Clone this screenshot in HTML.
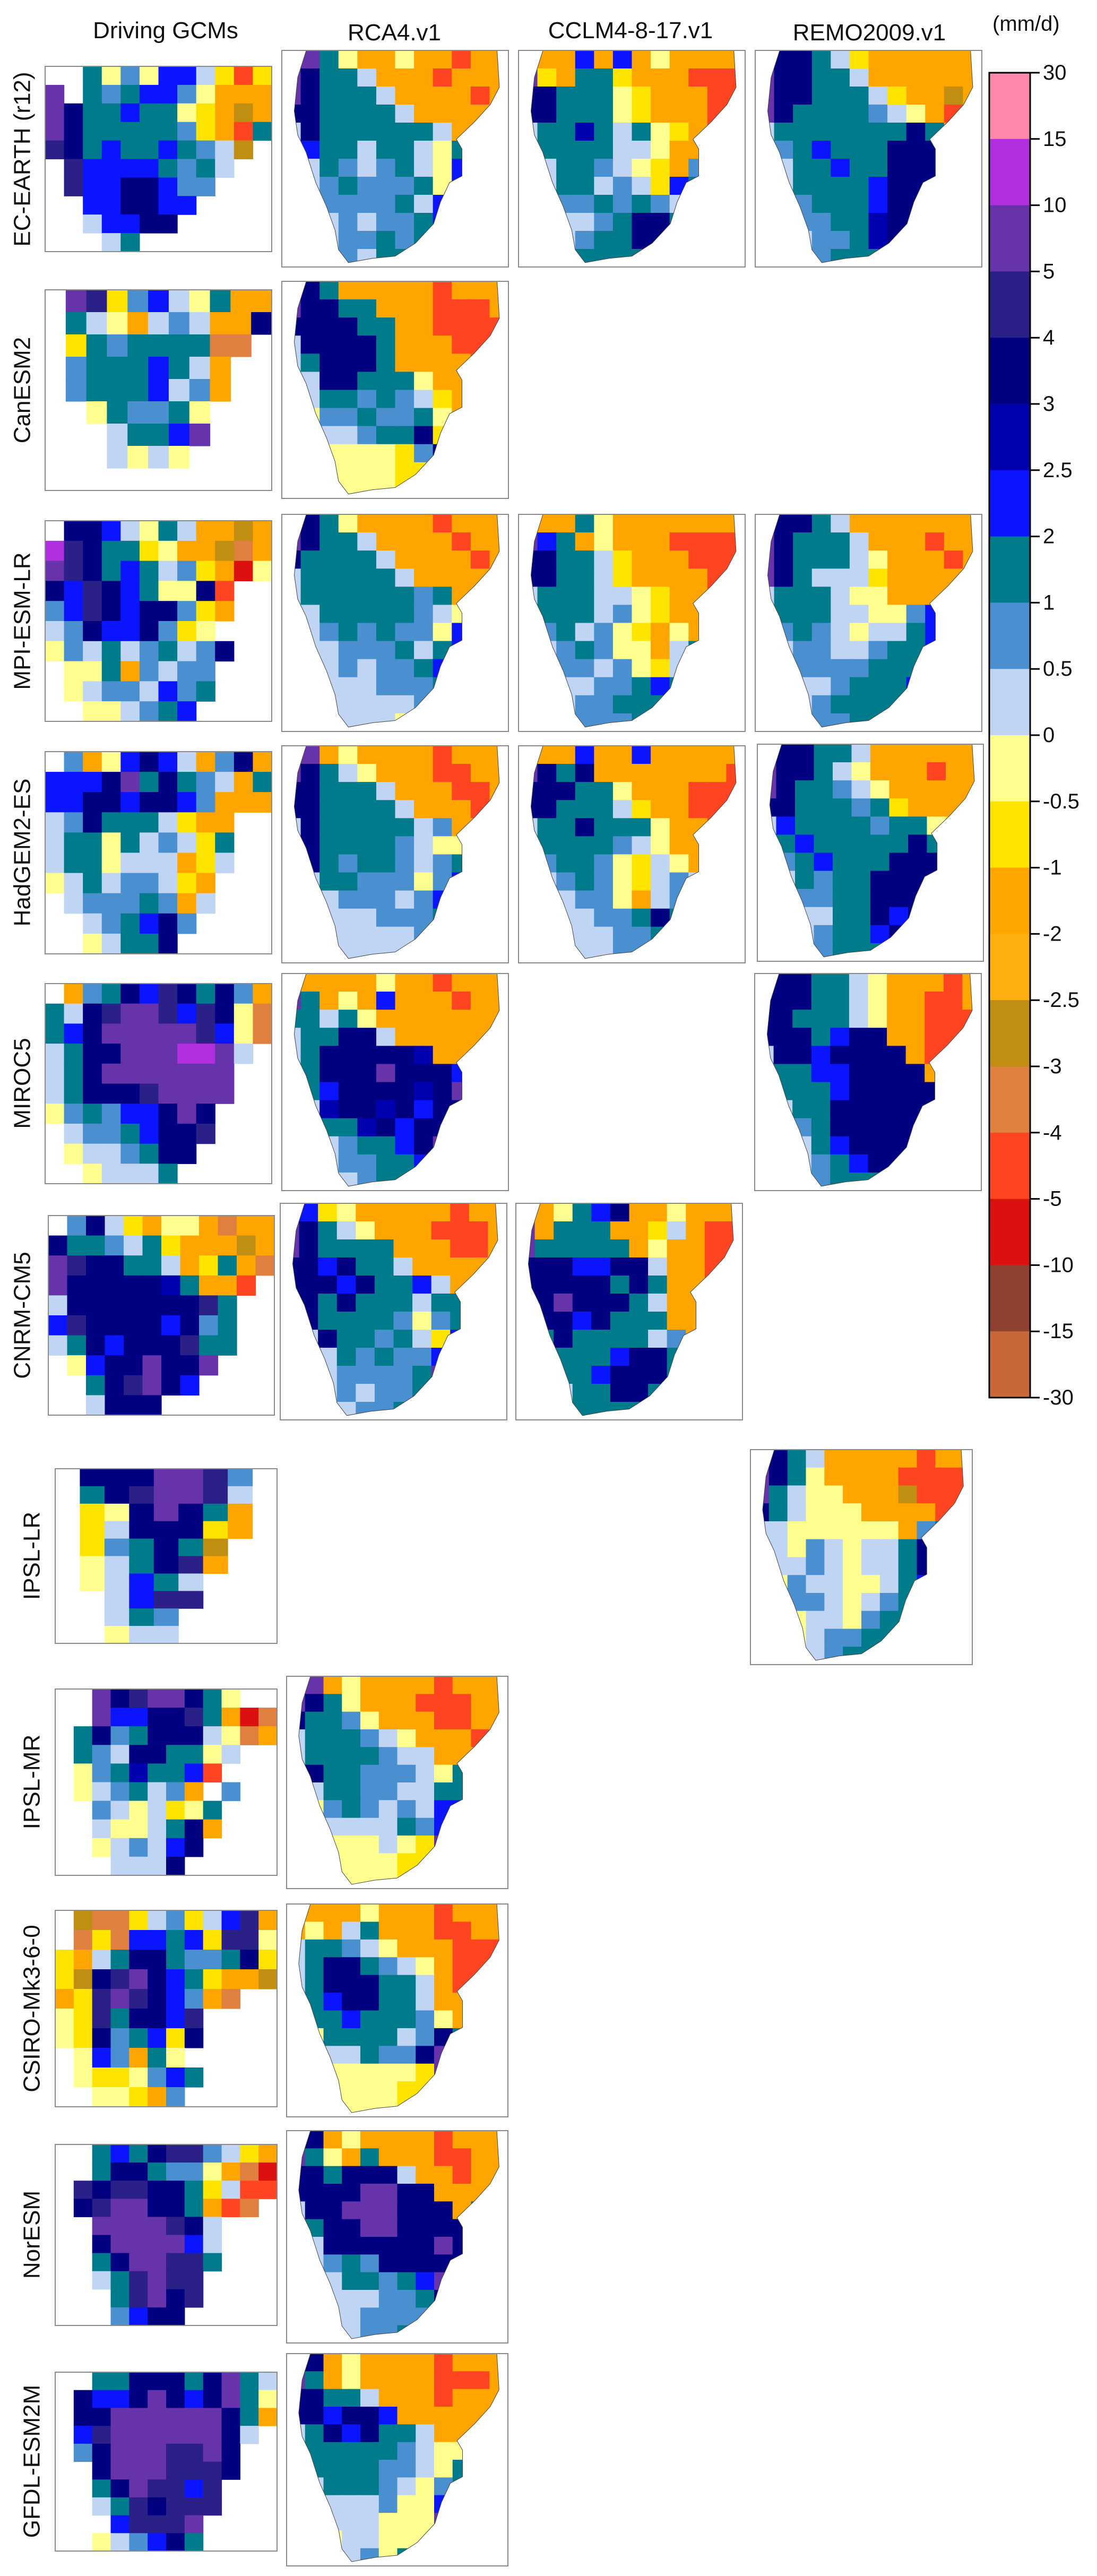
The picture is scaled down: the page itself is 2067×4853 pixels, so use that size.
<!DOCTYPE html>
<html><head><meta charset="utf-8">
<style>
html,body{margin:0;padding:0;background:#fff;}
svg{display:block;}
text{font-family:"Liberation Sans",sans-serif;fill:#111;}
</style></head>
<body>
<svg id="fig" width="2067" height="4853" viewBox="0 0 2067 4853" xmlns="http://www.w3.org/2000/svg">
<defs id="defs"></defs>
<g id="panels"></g>
<g id="titles">
<text x="312" y="72" font-size="44" text-anchor="middle">Driving GCMs</text>
<text x="743" y="76" font-size="44" text-anchor="middle">RCA4.v1</text>
<text x="1188" y="72" font-size="44" text-anchor="middle">CCLM4-8-17.v1</text>
<text x="1638" y="76" font-size="44" text-anchor="middle">REMO2009.v1</text>
<text x="1870" y="58" font-size="40">(mm/d)</text>
</g>
<g id="rowlabels"></g>
<g id="cbar"></g>
</svg>
<script>
const colorCodes = ["P","M","V","N","D","d","B","T","L","l","y","Y","O","o","K","R","r","X","W","Z"];
const colorHex = ["#ff88aa","#b030e0","#6633aa","#2a2088","#000080","#0000b0","#0a14ff","#007b8c","#4a90d0","#c0d4f4","#ffff90","#ffe400","#ffa500","#ffb010","#c08e10","#e08040","#ff4422","#dd1010","#904030","#c86838"];
const tickLabels = ["30","15","10","5","4","3","2.5","2","1","0.5","0","-0.5","-1","-2","-2.5","-3","-4","-5","-10","-15","-30"];
const rowNames = ["EC-EARTH (r12)","CanESM2","MPI-ESM-LR","HadGEM2-ES","MIROC5","CNRM-CM5","IPSL-LR","IPSL-MR","CSIRO-Mk3-6-0","NorESM","GFDL-ESM2M"];

const gEC = ["..TyLyBBlYrY","V.TLTBBLyOOO","VDTTBTTyYOKO","VDTTTTTLYOrT","NDTBTTBTLlK.",".NBBBBTLTl..",".NBBDDBLL...","..BBDDBB....","..lBBDD.....","...lT......."];
const gCan = [".VNYLBlyTOO",".TlyOlLlOOD",".YTLTTTTRR.",".LTTTBTlO..",".LTTTBlLO..","..yTLLTy...","...lTTBV...","...lyly....","..........."];
const gMPI = [".DDBlyTlOOKO","MNDTTYyOOKRO","VNDTBTlLYOXy","DBNDBTyyDr..","LBNDBDDLYO..","lLDBBDLYy...","yLlTlLTlLD..",".yyTOLlLL...",".ylLLlBLT...","..yylLTB...."];
const gHad = [".LOyBDBlOLDO","BBBDVTDTLlOT","BBDDBDDBLOOO","lLDTTTlYOO..","lTTyTlLlYT..","lTTylllOYl..","ylTlLLlYO...",".lLLLTLOl...","..lLTBDL....","..ylTTD....."];
const gMIROC = [".OLTDBNDTDLO","TlDNVVNBNDyR","TBDVVVVVNByR","lTDDVVVMMVl.","lTDVVVVVVV..","lTDDDNVVVV..","yLTLBBDVD...",".lLLTBDDN...",".yllLTDD....","..ylllT....."];
const gCNRM = [".LDlYOyyOROO","DTTLlTYOOOKO","VNDDTTlOYTOR","VDDDDDdTOOr.","lDDDDDDDNT..","BNDDDDBDLT..","lTDBDDDNTT..",".yBDDVDDV...","..TDNVDB....","..lDDD......"];
const gIPSLLR = [".DDDVVNL.",".TDNVVNl.",".YyDVDTO.",".YlDDDYO.",".YLTDTK..",".ylTDNO..",".ylBTl...","..lBNN...","..lTL....","..yll...."];
const gIPSLMR = ["..VDNVVDTy..","..VBBDDNTOXR",".TDLTDDDlyRO",".TLlDDTTyl..",".yLTdTTBr...",".ylLTlLO.L..","..LlylYyT...","..lyylTDO...","..ylLlBD....","...lllD....."];
const gCSIRO = [".KRRYlLYlBNO",".RYRBBTBYNNy","YOlTDDTLLTDY","YKDNVDBTYOOK","OYNVNDBLOR..","yYNTDDBN....","yYDLTBYD....",".yBLOTy.....",".yYYyLBT....","..yyYOL....."];
const gNor = ["..TBTDNNLlYO","..TDDTLLyORX",".NDNNDDTYlrr",".DNVVDDTOrR.","..VVVVNDl...","..DVVVVBl...","..TDVVNNT...","..lTNVNN....","...TNVDN....","...LBDD....."];
const gGFDL = ["..TTDDDTDVTl",".DBBDVDBDVTy",".DDVVVVVVDTO",".BNVVVVVVDl.",".LDVVVNNVD..","..DVVVNNND..","..TDVNNBN...","..lTNDNNN...","...BNNNV....","..ylLBDT...."];

const rEC_RCA = ["VVTyOOyOOrOO","VDTTlOOOrOOO","VDTTTlOOOOrO","DDTTTTlOOOOO","lDTTTTTTlOOO","lBTTlTTlyTDD","ylTLlLTlyBDD","ylLTLLLTyBBD","ylLLLLTlBVTT","yylLlLLTBVTT","yylLLTLTLTTT","yylLlTTTTTTT"];
const rEC_CCLM = ["VOOBOBOyOOOO","VYOTTYOOOrrr","DDTTTyYOOOrr","DDTTTyYOOOrX","lTTdTlTyYOrO","lTTTTllyOOOO","llTTLlyYOLTT","llTTlLlYBTTT","llLLTLTLlTTT","llllLTDDTTTT","yylLTTDDTTTT","yylTTTTTTTTT"];
const rEC_REMO = ["VDDTlYOOOOOO","VDDTTlOOOOOO","VDDTTTlYOOKO","VDTTTTLlyOrO","lTTTTTTTDTOO","lLTBTTTDDDLT","llTTBTTDDDTT","llTTTTBDDDTT","llLTTTBDDDTT","llLLTTdDDDTT","yllLLTdDDTTT","yllLTTTdDTTT"];
const rCan_RCA = ["VDTOOOOOrOOO","VDDTTOOOrrrO","DDDDTTOOrrrr","lDDDDTOOOrrr","lTDDDTOOOOrr","llDDTTTyOOOO","ylTTLTLlYOOO","yyLLTLLTyOOO","yyllLTTDYTOO","yyyyyyYLDTTT","yyyyyyYYTTTT","yyyyyyYYYTTT"];
const rMPI_RCA = ["VDTyOOOOrOOO","VDTTlOOOOrOO","DTTTTlOOOOrO","lTTTTTlOOOOO","lTTTTTTLTOOO","ylTTTTTLlyDD","ylLTLTLLyBDD","yllLLLTlTBTT","yllLlLLTBVTT","yllllLLLTBTT","yylllllLTTTT","yyylllyTTTTT"];
const rMPI_CCLM = ["VOOTyOOOOOOO","VBTOyOOOrrrr","DDTTlYOOOrrr","DDTTlYOOOOrX","lTTTllyYOOrO","lTTTlLyYOOOO","lLTlLyYOyOTT","llLTLyyOlTTT","llLLlLyYlLTT","llllLLTBTTTT","yylLLTTTTTTT","yylLLLTTTTTT"];
const rMPI_REMO = ["VDDTlOOOOOOO","VDTTTlOOOrOO","VDTTTlyOOOrO","VDTlllYOOOOO","lTTTlyyOOOOO","lTTTllyyLBDT","lLTLlyllTBTT","llLLllLTTBTT","llLLLLTTTBTT","llllLTTTBDTT","yllLTTTTDTTT","yllLLTTTTTTT"];
const rHad_RCA = ["VVOyOOOOrOOO","VDTlyOOOrrOO","DDTTTlOOOrrO","DDTTTTlOOOrO","lDTTTTTlLOOO","lDTTTTLlyyTT","yDTLTTLlLTTT","ylTTLLLyLBTT","yllLLLlLBBTT","yllllLLLTBTT","yylllllLLTTT","yyyllllyTTTT"];
const rHad_CCLM = ["VOOBOOBOOOOO","VDTDOOOOOOOr","DDDTTyOOOrrr","DDTTTlYOOrrX","lTTDTTTyOOrr","lTTTTLlyOOOO","lLTTLyYlyOOO","llLTLyYlLlTT","lllLLyOlLTTT","llllLLTDTTTT","yylllLLTTTTT","yyyllLLTTTTT"];
const rHad_REMO = ["VDDTTlOOOOOO","VDDTlyOOOrOO","VDTTLlyOOOOO","DDTTTLTYOOOO","lBTTTTLTTyYO","lTBTTTTTDTyY","lLTBTTTDDDTT","llTLTTDDDDTT","llLLTTDDDDTT","llllTTDBDTTT","yllLTTBDDTTT","yllLTTTTTTTT"];
const rMIROC_RCA = ["VOOOOyOOrOOO","VTOyOBOOOrOO","TTlTyOOOOOOO","lTTDDlOOOOOO","lTDDDDDdOOOO","lTDDDVDDDBDD","lTBDDDDdDVDD","yldDDdDBDDVV","ylTTdDBDDVVT","yllLTTBDVVTT","yllLLTTBDTTT","yyllLTTTTTTT"];
const rMIROC_REMO = ["VDDTTlyOOOrO","DDDTTlyOOrrO","DDTTTlyOOrrr","DDDTBDDOOrrO","lDDBDDDDOrrO","lTTBBDDDDOrO","lTTTBDDDDDTT","ylTTDDDDDDTT","ylLTDDDDDDTT","yllTBDDDDTTT","yllLTBDDDTTT","yllLTTTTTTTT"];
const rCNRM_RCA = ["VBYyOOOOOrOO","VDTlyOOOrrrO","VDTTTTOOOrrO","DDBDTTlOOOOO","DDDBDTTBlOOO","lDTDTTTlTTLT","lDTTTTLyLTTT","ylDTTLTlYBTT","yllTLTLLBTTT","yllLLLLTVTTT","yylLlLLTTTTT","yyylLLTTTTTT"];
const rCNRM_CCLM = ["VOyTBDOOyOOO","VOTTTOOYlOrr","VTTTTTOyOOrr","DDDBBDDlOOrO","DDDDDTDTOOrO","DDVDDDTlOOTT","lDDBDTTTOOTT","lTDTTTTlLOTT","lTTTTBDDTTTT","lTTTBDDDTTTT","yylTTDDTTTTT","yylTTTTTTTTT"];
const rIPSLLR_REMO = ["VDTlOOOOOrOO","VDTyOOOOrrrr","VTlyyOOOKrrr","DTlyyyOOOOrO","llyyyyyyOLTT","llyLlyllTDTT","yllLlyllTDTT","yyLllyylTBTT","yyLLlylLTTTT","yyyllyLTTTTT","yyylLLTTTTTT","yyylLTTTTTTT"];
const rIPSLMR_RCA = ["VVOyOOOOrOOO","VDTyOOOrrrOO","DTTLyOOOrrOO","lTTTLlyOOOrO","lTTTTLllOOOO","yDTTLLLlyTTT","ylTTLLllTTTT","yyLTLlLlBBTT","yyllllTLBVTT","yyyyylyYVTTT","yyyyyyYYYTTT","yyyyyyYYTTTT"];
const rCSIRO_RCA = ["OOOOyOOOrOOO","OyOlTOOOrrOO","lTTLlyOOOrrr","lTDDTLlyOrrr","lTDDDTTlOrrO","yTBDDTTlOOOO","yTTBTTTLyOOO","yyTTTTlLDTOO","yyllTLLDVTTT","yyyyyyyYVTTT","yyyyyyYYYTTT","yyyyyyYOTTTT"];
const rNor_RCA = ["VDOyOOOOrOOO","VTyOTOOOrrOO","DDTDDDlOOrOO","DDDDVVDDOOOO","lDDVVVDDDOTT","yTDDVVDDDDVV","ylDDDDDDVDTT","ylLTLDDDDDTT","yllTTLTBVVTT","yllllLLTDVTT","yyllLLLLTTTT","yyylLLTTTTTT"];
const rGFDL_RCA = ["VDOyOOOOrOOO","VTOyOOOOrrrO","DDTTlOOOrOOO","DDBDDBOOOOOO","lTDBDTTlOOOO","lTTTTTLlyyDV","yTTTTLLlyTTT","ylTTTLlyLTTT","yllllLyyBTTT","yylllyyyVTTT","yyyllyyyTTTT","yyylLyTTTTTT"];

const landX = [0.108,0.07,0.055,0.07,0.107,0.15,0.197,0.235,0.25,0.294,0.4,0.5,0.59,0.67,0.7,0.74,0.795,0.795,0.77,0.85,0.92,0.96,0.95];
const landY = [0,0.125,0.28,0.39,0.47,0.61,0.72,0.83,0.92,0.98,0.96,0.95,0.89,0.8,0.7,0.61,0.58,0.455,0.41,0.33,0.25,0.17,0];

const panels = [
 ["gcm-ec-earth",gEC,85,125,427,349,0],
 ["gcm-canesm2",gCan,85,546,427,378,0],
 ["gcm-mpi-esm-lr",gMPI,85,981,427,378,0],
 ["gcm-hadgem2-es",gHad,85,1416,427,381,0],
 ["gcm-miroc5",gMIROC,85,1853,427,377,0],
 ["gcm-cnrm-cm5",gCNRM,91,2290,426,376,0],
 ["gcm-ipsl-lr",gIPSLLR,104,2767,418,329,0],
 ["gcm-ipsl-mr",gIPSLMR,104,3182,418,351,0],
 ["gcm-csiro",gCSIRO,104,3599,418,370,0],
 ["gcm-noresm",gNor,104,4040,418,341,0],
 ["gcm-gfdl",gGFDL,104,4469,418,337,0],
 ["rca4-ec-earth",rEC_RCA,531,95,427,408,1],
 ["cclm-ec-earth",rEC_CCLM,977,95,427,408,1],
 ["remo-ec-earth",rEC_REMO,1423,95,427,408,1],
 ["rca4-canesm2",rCan_RCA,531,530,427,409,1],
 ["rca4-mpi",rMPI_RCA,531,969,427,409,1],
 ["cclm-mpi",rMPI_CCLM,977,969,427,409,1],
 ["remo-mpi",rMPI_REMO,1423,969,427,409,1],
 ["rca4-hadgem",rHad_RCA,531,1405,427,409,1],
 ["cclm-hadgem",rHad_CCLM,977,1405,427,409,1],
 ["remo-hadgem",rHad_REMO,1427,1402,426,409,1],
 ["rca4-miroc5",rMIROC_RCA,531,1834,427,409,1],
 ["remo-miroc5",rMIROC_REMO,1422,1834,427,409,1],
 ["rca4-cnrm",rCNRM_RCA,528,2267,427,408,1],
 ["cclm-cnrm",rCNRM_CCLM,972,2267,427,408,1],
 ["remo-ipsl-lr",rIPSLLR_REMO,1414,2731,418,405,1],
 ["rca4-ipsl-mr",rIPSLMR_RCA,540,3158,417,400,1],
 ["rca4-csiro",rCSIRO_RCA,540,3587,417,401,1],
 ["rca4-noresm",rNor_RCA,540,4014,417,400,1],
 ["rca4-gfdl",rGFDL_RCA,540,4434,417,400,1]
];
const labelPos = [[42,300],[42,735],[42,1170],[42,1606],[42,2041],[42,2478],[60,2931],[60,3357],[60,3784],[60,4210],[60,4637]];

const NS = "http://www.w3.org/2000/svg";
const defs = document.getElementById("defs");
const gp = document.getElementById("panels");
function colorOf(c){const i=colorCodes.indexOf(c);return i<0?null:colorHex[i];}

panels.forEach((p,pi)=>{
  const [name,grid,x,y,w,h,isRcm]=p;
  const g=document.createElementNS(NS,"g");
  
  
  const pts=landX.map((fx,i)=>(x+fx*w).toFixed(1)+","+(y+landY[i]*h).toFixed(1)).join(" ");
  const cells=document.createElementNS(NS,"g");
  if(isRcm){
    const cp=document.createElementNS(NS,"clipPath");
    cp.setAttribute("id","clip"+pi);
    const poly=document.createElementNS(NS,"polygon");
    poly.setAttribute("points",pts);
    cp.appendChild(poly);defs.appendChild(cp);
    cells.setAttribute("clip-path","url(#clip"+pi+")");
  }
  const rows=grid.length, cols=grid[0].length;
  const cw=w/cols, ch=h/rows;
  for(let r=0;r<rows;r++){for(let c=0;c<cols;c++){
    const col=colorOf(grid[r][c]); if(!col) continue;
    const rc=document.createElementNS(NS,"rect");
    
    
    rc.setAttribute("x",(x+c*cw).toFixed(2));rc.setAttribute("y",(y+r*ch).toFixed(2));
    rc.setAttribute("width",(cw+0.6).toFixed(2));rc.setAttribute("height",(ch+0.6).toFixed(2));
    rc.setAttribute("fill",col);cells.appendChild(rc);
  }}
  g.appendChild(cells);
  if(isRcm){
    const coast=document.createElementNS(NS,"polyline");
    
    
    coast.setAttribute("points",pts);coast.setAttribute("fill","none");
    coast.setAttribute("stroke","#444");coast.setAttribute("stroke-width","1");
    g.appendChild(coast);
  }
  const box=document.createElementNS(NS,"rect");
  
  
  box.setAttribute("x",x);box.setAttribute("y",y);box.setAttribute("width",w);box.setAttribute("height",h);
  box.setAttribute("fill","none");box.setAttribute("stroke","#8a8a8a");box.setAttribute("stroke-width","2");
  g.appendChild(box);
  gp.appendChild(g);
});

const gl=document.getElementById("rowlabels");
rowNames.forEach((n,i)=>{
  const t=document.createElementNS(NS,"text");
  
  
  const [lx,ly]=labelPos[i];
  t.setAttribute("x",lx);t.setAttribute("y",ly);
  t.setAttribute("font-size","44");t.setAttribute("text-anchor","middle");
  t.setAttribute("dominant-baseline","central");
  t.setAttribute("transform","rotate(-90 "+lx+" "+ly+")");
  t.textContent=n;gl.appendChild(t);
});

const gc=document.getElementById("cbar");
const cbX=1864,cbW=77,cbTop=137,seg=124.8;
function cbY(i){return cbTop+i*seg;}
colorHex.forEach((c,i)=>{
  const r=document.createElementNS(NS,"rect");
  
  
  r.setAttribute("x",cbX);r.setAttribute("y",cbY(i));r.setAttribute("width",cbW);r.setAttribute("height",seg+0.5);
  r.setAttribute("fill",c);gc.appendChild(r);
});
const fr=document.createElementNS(NS,"rect");


fr.setAttribute("x",cbX);fr.setAttribute("y",cbTop);fr.setAttribute("width",cbW);fr.setAttribute("height",seg*colorHex.length);
fr.setAttribute("fill","none");fr.setAttribute("stroke","#000");fr.setAttribute("stroke-width","3");
gc.appendChild(fr);
tickLabels.forEach((l,i)=>{
  const ln=document.createElementNS(NS,"line");
  
  
  ln.setAttribute("x1",cbX+cbW);ln.setAttribute("x2",cbX+cbW+18);
  ln.setAttribute("y1",cbY(i));ln.setAttribute("y2",cbY(i));
  ln.setAttribute("stroke","#000");ln.setAttribute("stroke-width","3");gc.appendChild(ln);
  const t=document.createElementNS(NS,"text");
  
  
  t.setAttribute("x",cbX+cbW+24);t.setAttribute("y",cbY(i));
  t.setAttribute("font-size","40");t.setAttribute("dominant-baseline","central");
  t.textContent=l;gc.appendChild(t);
});
</script>
</body></html>
